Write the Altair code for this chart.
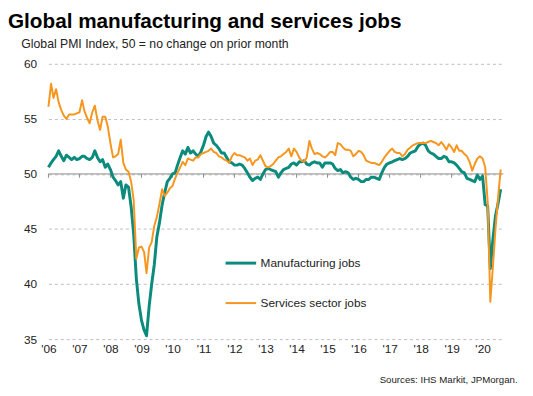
import altair as alt
import pandas as pd

# Monthly Global PMI employment indices, Jan 2006 - Aug 2020
manufacturing = [
    50.6, 51.0, 51.3, 51.6, 52.1, 51.6, 51.2, 51.7, 51.5, 51.3, 51.5, 51.3,  # 2006
    51.4, 51.6, 51.6, 51.4, 51.3, 51.5, 52.1, 51.5, 51.1, 51.3, 50.6, 50.9,  # 2007
    50.4, 49.7, 49.4, 49.0, 49.3, 47.8, 49.0, 48.8, 47.0, 44.5, 40.5, 38.2,  # 2008
    36.7, 35.8, 35.3, 38.0, 40.0, 41.8, 44.3, 45.6, 47.2, 48.3, 49.3, 49.6,  # 2009
    50.0, 50.1, 50.8, 51.5, 52.1, 51.8, 52.4, 51.9, 52.1, 51.8, 51.6, 52.0,  # 2010
    52.6, 53.4, 53.8, 53.4, 52.8, 52.6, 52.3, 51.9, 51.9, 51.5, 51.1, 51.0,  # 2011
    50.8, 50.8, 50.9, 50.8, 50.5, 50.1, 49.7, 49.4, 49.6, 49.7, 49.5, 50.0,  # 2012
    50.4, 50.5, 50.4, 50.3, 50.2, 49.7, 50.1, 50.4, 50.5, 50.6, 50.9, 51.0,  # 2013
    50.8, 51.1, 51.1, 51.2, 50.9, 50.8, 51.0, 51.1, 51.0, 51.0, 50.6, 51.0,  # 2014
    51.0, 51.0, 50.9, 50.5, 50.3, 50.4, 50.1, 50.2, 50.1, 49.7, 49.5, 49.6,  # 2015
    49.5, 49.3, 49.3, 49.5, 49.5, 49.7, 49.7, 49.6, 49.5, 50.1, 50.6, 50.9,  # 2016
    51.0, 51.1, 51.2, 51.3, 51.4, 51.3, 51.4, 51.6, 51.9, 52.0, 52.1, 52.5,  # 2017
    52.7, 52.8, 52.6, 52.1, 51.9, 51.8, 51.6, 51.4, 51.4, 51.6, 51.5, 51.1,  # 2018
    51.1, 51.0, 50.8, 50.5, 50.2, 50.1, 49.6, 49.5, 49.4, 49.3, 49.9, 49.5,  # 2019
    49.8, 47.2, 47.1, 41.4, 44.0, 46.2, 47.3, 48.6,                          # 2020
]

services = [
    56.1, 58.2, 56.9, 57.7, 56.5, 55.8, 55.3, 55.0, 55.4, 55.4, 55.4, 55.5,  # 2006
    55.6, 56.7, 55.7, 55.1, 54.6, 55.6, 56.2, 54.9, 54.0, 55.2, 55.2, 54.3,  # 2007
    52.8, 51.5, 51.6, 51.8, 53.1, 51.0, 50.4, 50.2, 49.3, 47.6, 42.3, 43.3,  # 2008
    43.4, 42.9, 41.0, 43.3, 43.8, 45.3, 46.1, 47.3, 48.6, 48.0, 48.3, 48.7,  # 2009
    48.9, 49.6, 50.1, 50.6, 51.1, 50.8, 51.4, 51.3, 51.2, 51.5, 51.5, 51.8,  # 2010
    51.9, 52.0, 52.1, 52.3, 52.0, 51.9, 51.6, 51.5, 51.3, 51.2, 51.0, 51.6,  # 2011
    51.9, 51.7, 51.7, 51.6, 51.5, 51.2, 51.4, 50.8, 51.2, 51.3, 51.7, 51.2,  # 2012
    50.7, 50.6, 50.7, 50.9, 51.2, 51.5, 51.6, 51.8, 52.0, 52.3, 51.6, 52.3,  # 2013
    52.0, 51.5, 51.2, 51.1, 51.5, 53.0, 52.3, 51.8, 51.9, 51.8, 51.6, 51.5,  # 2014
    51.7, 52.0, 52.0, 51.7, 52.8, 52.7, 52.4, 52.2, 52.2, 52.1, 51.6, 51.8,  # 2015
    52.1, 52.0, 51.7, 51.2, 51.1, 51.0, 51.0, 50.9, 50.8, 51.1, 51.5, 51.8,  # 2016
    52.1, 52.3, 52.0, 51.9, 51.9, 51.6, 51.8, 52.2, 52.4, 52.6, 52.7, 52.8,  # 2017
    52.8, 52.8, 52.8, 52.9, 53.0, 52.9, 52.8, 52.6, 52.9, 52.6, 52.2, 52.7,  # 2018
    52.4, 52.0, 52.6, 52.1, 52.1, 51.8, 51.6, 51.1, 50.3, 50.9, 51.4, 51.6,  # 2019
    51.4, 50.6, 47.5, 38.4, 41.5, 45.0, 47.8, 50.4,                          # 2020
]

series_names = ["Manufacturing jobs", "Services sector jobs"]
series_colors = ["#0b8b7c", "#f7961e"]
series_widths = [3.0, 2.0]
y_ticks = [35, 40, 45, 50, 55, 60]
years = list(range(2006, 2021))

dates = pd.date_range("2006-01-01", periods=len(manufacturing), freq="MS")
df = pd.concat([
    pd.DataFrame({"date": dates, "value": manufacturing, "series": series_names[0]}),
    pd.DataFrame({"date": dates, "value": services, "series": series_names[1]}),
])
year_df = pd.DataFrame({"date": pd.to_datetime([f"{y}-01-01" for y in years])})
ref_df = pd.DataFrame({"y": [50]})

FONT = "Liberation Sans"
x_scale = alt.Scale(domain=["2006-01-01", "2020-09-01"], nice=False)
y_scale = alt.Scale(domain=[35, 60], nice=False)

x_axis = alt.Axis(
    values=[f"{y}-01-01" for y in years],
    labelExpr="\"'\" + timeFormat(datum.value, '%y')",
    domain=False, ticks=False, grid=False,
    labelFlush=False, labelOverlap=False, labelBound=False,
    labelFontSize=12, labelColor="#222", labelFont=FONT, labelPadding=5,
    title="Sources: IHS Markit, JPMorgan.",
    titleFont=FONT, titleFontSize=9.8, titleFontWeight="normal", titleColor="#222",
    titleAnchor="end", titleAlign="right", titleBaseline="alphabetic",
    titleX=475, titleY=44,
)
y_axis = alt.Axis(
    values=y_ticks, domain=False, ticks=False,
    grid=True, gridColor="#bdbdbd", gridDash=[3, 3], gridWidth=1,
    labelFontSize=12, labelColor="#222", labelFont=FONT, labelPadding=12,
    title="Global PMI Index, 50 = no change on prior month",
    titleFont=FONT, titleFontSize=12.4, titleFontWeight="normal", titleColor="#222",
    titleAngle=0, titleAlign="left", titleBaseline="middle",
    titleX=-28, titleY=-21,
)

lines = alt.Chart(df).mark_line(strokeJoin="round").encode(
    x=alt.X("date:T", scale=x_scale, axis=x_axis),
    y=alt.Y("value:Q", scale=y_scale, axis=y_axis),
    color=alt.Color(
        "series:N",
        scale=alt.Scale(domain=series_names, range=series_colors),
        legend=alt.Legend(
            title=None, orient="none", legendX=178, legendY=185,
            symbolType="stroke", symbolSize=961, symbolStrokeWidth=3,
            labelFont=FONT, labelFontSize=12, labelColor="#222",
            rowPadding=18, padding=0, labelOffset=3,
        ),
    ),
    strokeWidth=alt.StrokeWidth(
        "series:N", scale=alt.Scale(domain=series_names, range=series_widths), legend=None
    ),
)

ref_rule = alt.Chart(ref_df).mark_rule(color="#8c8c8c", strokeWidth=1).encode(
    y=alt.Y("y:Q", scale=y_scale, axis=y_axis)
)
year_ticks = alt.Chart(year_df).mark_rule(color="#8c8c8c", strokeWidth=1).encode(
    x=alt.X("date:T", scale=x_scale, axis=x_axis),
    y=alt.datum(50),
    y2=alt.datum(49.65),
)

chart = alt.layer(ref_rule, year_ticks, lines).properties(
    width=461,
    height=279,
    autosize=alt.AutoSizeParams(type="none"),
    padding={"left": 41, "top": 54, "right": 22, "bottom": 47},
    title=alt.TitleParams(
        "Global manufacturing and services jobs",
        anchor="start", frame="group", dx=-41, offset=5,
        font=FONT, fontSize=21, fontWeight="bold", color="#000",
    ),
).configure_view(stroke=None)

chart.save("out.html", embed_options={"renderer": "svg", "actions": False})
